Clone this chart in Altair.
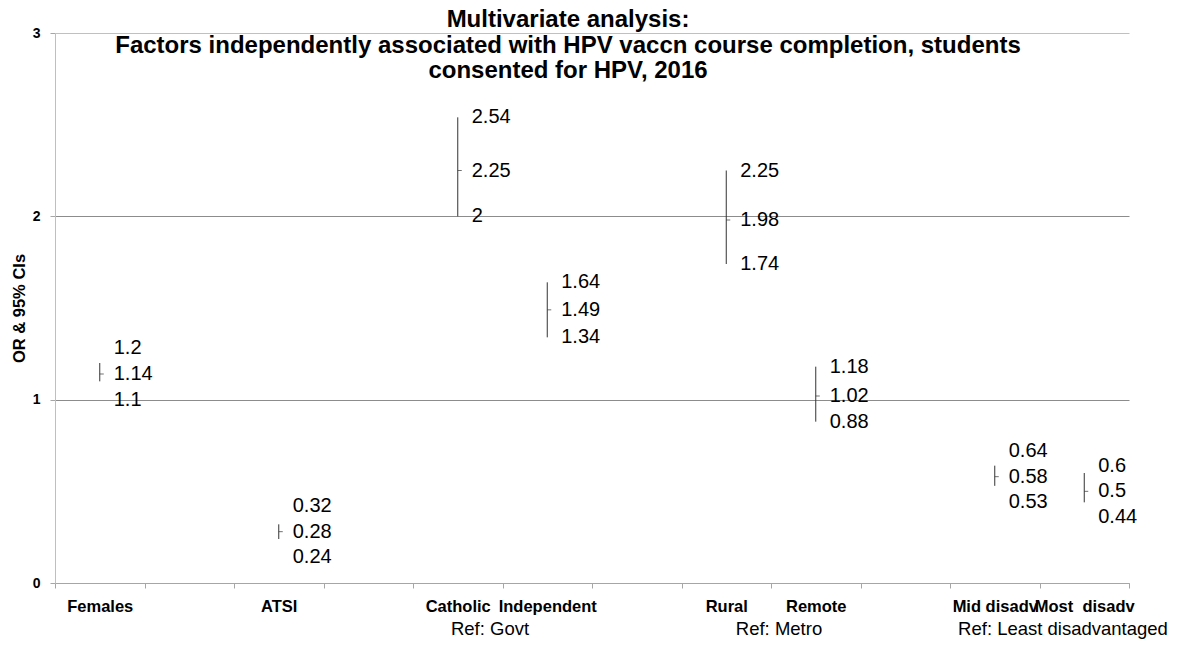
import altair as alt
import pandas as pd

# ---- data ----
categories = ["Females", "ATSI", "Catholic", "Independent", "Rural", "Remote",
              "Mid disadv", "Most\u00a0 disadv"]
or_values = [1.14, 0.28, 2.25, 1.49, 1.98, 1.02, 0.58, 0.50]
ci_low = [1.10, 0.24, 2.00, 1.34, 1.74, 0.88, 0.53, 0.44]
ci_high = [1.20, 0.32, 2.54, 1.64, 2.25, 1.18, 0.64, 0.60]
# axis slots (blank slots separate the groups)
axis_slots = ["Females", " ", "ATSI", "  ", "Catholic", "Independent", "   ",
              "Rural", "Remote", "    ", "Mid disadv", "Most\u00a0 disadv"]
y_ticks = [0, 1, 2, 3]

title_lines = ["Multivariate analysis:",
               "Factors independently associated with HPV vaccn course completion, students",
               "consented for HPV, 2016"]
ref_labels = ["Ref: Govt", "Ref: Metro", "Ref: Least disadvantaged"]
y_title = "OR & 95% CIs"

FONT = "Liberation Sans"
W, H = 1074, 550

df = pd.DataFrame({"cat": categories, "est": or_values, "lo": ci_low, "hi": ci_high})

# label placement: spread labels that would collide (min gap in data units)
GAP = 0.14
rows = []
for c, m, l, h in zip(categories, or_values, ci_low, ci_high):
    rows.append({"cat": c, "pos": max(h, m + GAP), "txt": f"{h:g}"})
    rows.append({"cat": c, "pos": m, "txt": f"{m:g}"})
    rows.append({"cat": c, "pos": min(l, m - GAP), "txt": f"{l:g}"})
labels = pd.DataFrame(rows)

x_scale = alt.Scale(domain=axis_slots, paddingInner=0, paddingOuter=0)
x_axis = alt.Axis(title=None, tickBand="extent", labelAngle=0, labelFont=FONT,
                  labelFontSize=16.5, labelFontWeight="bold", labelColor="black",
                  labelPadding=10, tickSize=5, tickColor="#a6a6a6",
                  domainColor="#a6a6a6", grid=False, labelOverlap=False)
y_scale = alt.Scale(domain=[0, 3], nice=False)
y_axis = alt.Axis(values=y_ticks, title=y_title, titleFont=FONT,
                  titleFontSize=16.5, titleFontWeight="bold", titleColor="black",
                  titleX=-28, titleY=H / 2, labelFont=FONT, labelFontSize=14,
                  labelFontWeight="bold", labelColor="black", labelPadding=10,
                  tickSize=5, tickColor="#a6a6a6", domainColor="#bfbfbf",
                  grid=True,
                  gridColor={"condition": {"test": "datum.value === 3", "value": "#c0c0c0"},
                             "value": "#8c8c8c"},
                  gridWidth=1)

x_enc = alt.X("cat:N", scale=x_scale, axis=x_axis)

rules = alt.Chart(df).mark_rule(color="#333333", strokeWidth=1).encode(
    x=x_enc,
    y=alt.Y("lo:Q", scale=y_scale, axis=y_axis),
    y2="hi:Q",
)
ticks = alt.Chart(df).mark_tick(color="#333333", size=4, thickness=1, xOffset=2).encode(
    x=x_enc,
    y=alt.Y("est:Q", scale=y_scale, axis=y_axis),
)
texts = alt.Chart(labels).mark_text(align="left", baseline="middle", dx=14,
                                     font=FONT, fontSize=20, color="black").encode(
    x=x_enc,
    y=alt.Y("pos:Q", scale=y_scale, axis=y_axis),
    text="txt:N",
)

one = pd.DataFrame({"a": [0]})
title_y = [-6, 19.5, 45]
title_layers = [
    alt.Chart(one).mark_text(font=FONT, fontSize=24, fontWeight="bold", color="black",
                             align="center", baseline="alphabetic").encode(
        x=alt.value(513), y=alt.value(ty), text=alt.value(t))
    for t, ty in zip(title_lines, title_y)
]
ref_x = [435, 724, 1008]
ref_layers = [
    alt.Chart(one).mark_text(font=FONT, fontSize=18.5, color="black",
                             align="center", baseline="alphabetic").encode(
        x=alt.value(rx), y=alt.value(602), text=alt.value(t))
    for t, rx in zip(ref_labels, ref_x)
]

chart = alt.layer(rules, ticks, texts, *title_layers, *ref_layers).properties(
    width=W, height=H,
    autosize=alt.AutoSizeParams(type="none"),
    padding={"left": 47, "top": 25, "right": 44, "bottom": 56},
    background="white",
).configure_view(stroke=None)

chart.save("out.html", embed_options={"renderer": "svg", "actions": False})
